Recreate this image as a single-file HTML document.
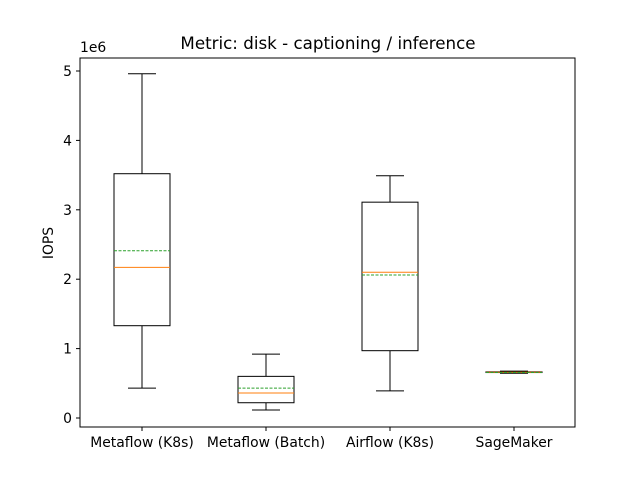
<!DOCTYPE html>
<html><head><meta charset="utf-8"><style>
body{margin:0;background:#fff}
svg text{font-family:"DejaVu Sans","Liberation Sans",sans-serif;fill:#000}
</style></head><body>
<svg id="chart" width="640" height="480" xmlns="http://www.w3.org/2000/svg">
<rect width="640" height="480" fill="#fff"/>
<text x="328" y="49" font-size="16.7" text-anchor="middle">Metric: disk - captioning / inference</text>
<text x="53" y="243" font-size="13.9" text-anchor="middle" transform="rotate(-90 53 243)">IOPS</text>
<text x="80" y="52" font-size="13.9">1e6</text>
<g id="plot"></g>
<rect x="80" y="58" width="495" height="369" fill="none" stroke="#000" stroke-width="1"/>
</svg>
<script>
const categories=["Metaflow (K8s)","Metaflow (Batch)","Airflow (K8s)","SageMaker"];
const whiskerLow=[0.43,0.115,0.39,0.645];
const q1=[1.33,0.22,0.97,0.655];
const median=[2.17,0.36,2.10,0.66];
const mean=[2.41,0.43,2.06,0.655];
const q3=[3.52,0.6,3.11,0.665];
const whiskerHigh=[4.96,0.92,3.49,0.675];
const yTicks=[0,1,2,3,4,5];

const NS="http://www.w3.org/2000/svg";
const g=document.getElementById('plot');
const y=v=>418-v*69.4;
const x=i=>142+i*124;
function mk(tag,attrs,parent){const e=document.createElementNS(NS,tag);for(const k in attrs)e.setAttribute(k,attrs[k]);(parent||g).appendChild(e);return e;}
yTicks.forEach(t=>{
  const l=mk('line',{x1:76,x2:80,y1:y(t),y2:y(t),stroke:'#000'});
  
  
  const tx=mk('text',{x:72,y:y(t)+5,'font-size':13.9,'text-anchor':'end'});
  tx.textContent=t;
  
  
});
categories.forEach((c,i)=>{
  const cx=x(i),w=28;
  const grp=mk('g',{});
  
  
  mk('line',{x1:cx,x2:cx,y1:y(whiskerLow[i]),y2:y(q1[i]),stroke:'#000'},grp);
  mk('line',{x1:cx,x2:cx,y1:y(q3[i]),y2:y(whiskerHigh[i]),stroke:'#000'},grp);
  mk('line',{x1:cx-14,x2:cx+14,y1:y(whiskerLow[i]),y2:y(whiskerLow[i]),stroke:'#000'},grp);
  mk('line',{x1:cx-14,x2:cx+14,y1:y(whiskerHigh[i]),y2:y(whiskerHigh[i]),stroke:'#000'},grp);
  mk('rect',{x:cx-w,y:y(q3[i]),width:2*w,height:y(q1[i])-y(q3[i]),fill:'none',stroke:'#000'},grp);
  mk('line',{x1:cx-w,x2:cx+w,y1:y(median[i]),y2:y(median[i]),stroke:'#ff7f0e'},grp);
  mk('line',{x1:cx-w,x2:cx+w,y1:y(mean[i]),y2:y(mean[i]),stroke:'#2ca02c','stroke-dasharray':'3,1.5'},grp);
  const t=mk('line',{x1:cx,x2:cx,y1:427,y2:431,stroke:'#000'});
  
  
  const lb=mk('text',{x:cx,y:447,'font-size':13.9,'text-anchor':'middle'});
  lb.textContent=c;
  
  
});
</script>
</body></html>
